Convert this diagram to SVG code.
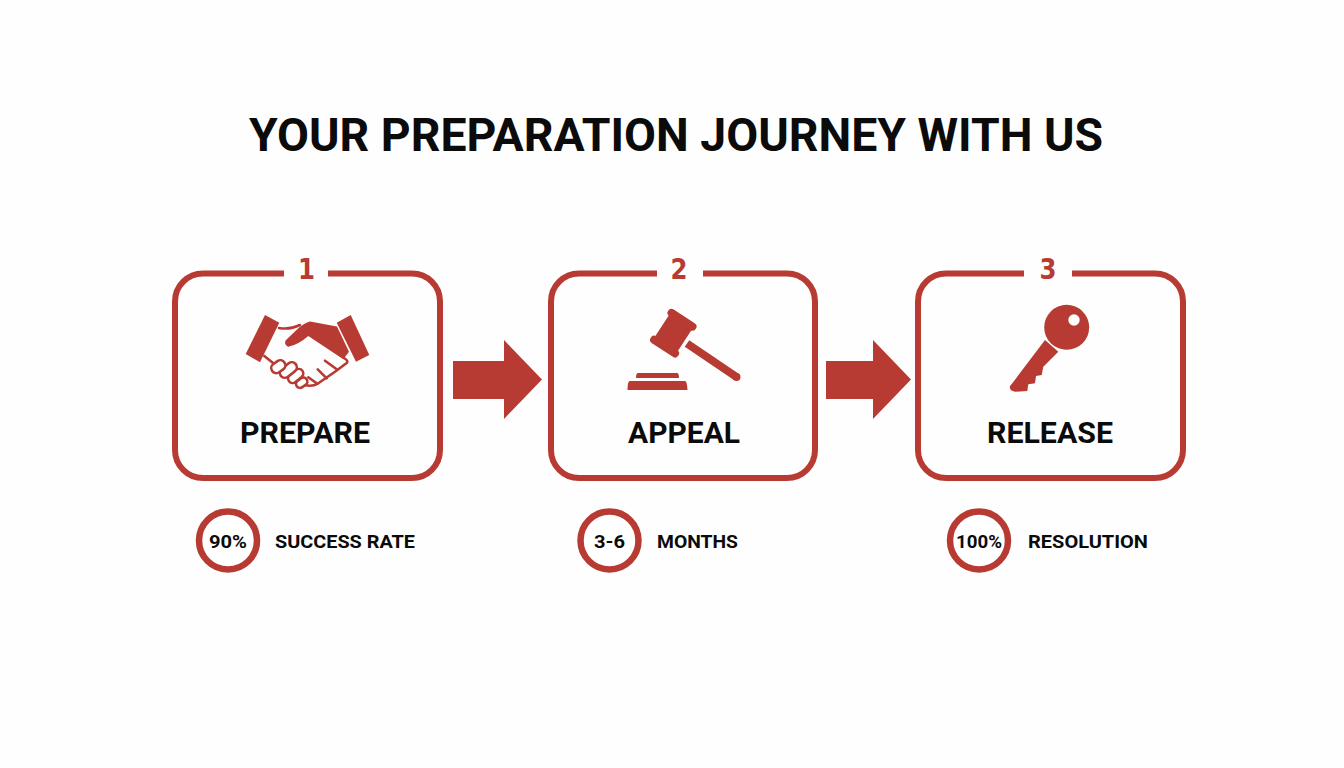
<svg xmlns="http://www.w3.org/2000/svg" width="1344" height="768" viewBox="0 0 1344 768">
<style>
text{font-family:Roboto,"Liberation Sans",sans-serif;font-weight:700;fill:#0b0b0b}
.title{font-size:47px}
.label{font-size:29px}
.num{font-family:"DejaVu Sans",sans-serif;font-size:29px;fill:#b73b33;text-anchor:middle}
.stat{font-size:18px;text-anchor:middle}
.cap{font-size:19px}
.box{fill:none;stroke:#b73b33;stroke-width:6}
.ring{fill:#fff;stroke:#b73b33;stroke-width:6.5}
.fill{fill:#b73b33}
.line{fill:none;stroke:#b73b33;stroke-width:2.6;stroke-linecap:round;stroke-linejoin:round}
.finger{fill:#fff;stroke:#b73b33;stroke-width:2.6}
</style>
<rect width="1344" height="768" fill="#fefefe"/>
<text class="title" x="249" y="151" textLength="854" lengthAdjust="spacingAndGlyphs">YOUR PREPARATION JOURNEY WITH US</text>
<g id="connectors">
<path class="fill" d="M453 361H504V340L542 379.500L504 419V399H453Z"/>
<path class="fill" d="M826 361H873V340L911 379.500L873 419V399H826Z"/>
</g>
<g id="node-prepare">
<path class="box" d="M328 273.500H412A28 28 0 0 1 440 301.500V450A28 28 0 0 1 412 478H203A28 28 0 0 1 175 450V301.500A28 28 0 0 1 203 273.500H284"/>
<text class="num" x="306.500" y="279" textLength="17" lengthAdjust="spacingAndGlyphs">1</text>
<path class="fill" d="M265 315L279.300 322.700L260 362.300L245.700 354Z"/>
<path class="fill" d="M336.700 322.700L350.700 315L369.300 355L356 361.700Z"/>
<path class="fill" d="M337 326.500L310 321.500Q304 323 298.300 328.300L285.500 340.500Q284 345 288.300 346.700Q298 345 308.300 336L343.300 359.300L349 351.700Z"/>
<path class="line" d="M279 328Q290 330 300 325M264.300 356L273.300 363.300M344 358Q349 361 346.700 363L335 371.700L318.300 383.300Q312 387 305 385M325 360.700L336.700 369.300M317.700 369.300L326.700 378.300M308.300 377.300L316.700 383.300"/>
<rect class="finger" x="295.700" y="378.700" width="12" height="8" rx="4" transform="rotate(-35 301.700 382.700)"/>
<rect class="finger" x="287.200" y="371.500" width="17" height="9" rx="4.500" transform="rotate(-40 295.700 376)"/>
<rect class="finger" x="278.800" y="365" width="19" height="10" rx="5" transform="rotate(-38 288.300 370)"/>
<rect class="finger" x="270.800" y="361.700" width="15" height="10" rx="5" transform="rotate(-35 278.300 366.700)"/>
<text class="label" x="240" y="443" textLength="130" lengthAdjust="spacingAndGlyphs">PREPARE</text>
</g>
<g id="node-appeal">
<path class="box" d="M703 273.500H787A28 28 0 0 1 815 301.500V450A28 28 0 0 1 787 478H579A28 28 0 0 1 551 450V301.500A28 28 0 0 1 579 273.500H657"/>
<text class="num" x="679" y="279" textLength="17" lengthAdjust="spacingAndGlyphs">2</text>
<g transform="translate(673.300 333.200) rotate(33)">
<rect class="fill" x="-13.500" y="-16" width="27" height="32"/>
<rect class="fill" x="-16.500" y="-20" width="33" height="8" rx="4"/>
<rect class="fill" x="-16.500" y="12" width="33" height="8" rx="4"/>
</g>
<path d="M687 343.500L736.500 377" fill="none" stroke="#b73b33" stroke-width="8"/>
<circle class="fill" cx="736.500" cy="377" r="4"/>
<path class="fill" d="M638 373H677Q679 373 679 378H636Q636 373 638 373Z"/>
<path class="fill" d="M630 381H685Q687 381 687.500 390H627.500Q627.500 381 630 381Z"/>
<text class="label" x="628" y="443" textLength="112" lengthAdjust="spacingAndGlyphs">APPEAL</text>
</g>
<g id="node-release">
<path class="box" d="M1072 273.500H1155A28 28 0 0 1 1183 301.500V450A28 28 0 0 1 1155 478H946A28 28 0 0 1 918 450V301.500A28 28 0 0 1 946 273.500H1024"/>
<text class="num" x="1048" y="279" textLength="17" lengthAdjust="spacingAndGlyphs">3</text>
<path class="fill" d="M1045 340L1058.300 351.700L1043.300 366.700L1041.700 375L1036 376L1035 383.300L1028.300 384.300L1027.300 391L1015 391.700Q1009 391 1010 386L1012.700 382.700Z"/>
<circle cx="1066.700" cy="327.300" r="22.500" class="fill"/>
<circle cx="1074" cy="320" r="5.700" fill="#fff"/>
<text class="label" x="987" y="443" textLength="126" lengthAdjust="spacingAndGlyphs">RELEASE</text>
</g>
<g id="stat-success">
<circle class="ring" cx="228" cy="540.500" r="29"/>
<text class="stat" x="228" y="548" textLength="38" lengthAdjust="spacingAndGlyphs">90%</text>
<text class="cap" x="275" y="548" textLength="140" lengthAdjust="spacingAndGlyphs">SUCCESS RATE</text>
</g>
<g id="stat-months">
<circle class="ring" cx="609.500" cy="540.500" r="29"/>
<text class="stat" x="609.500" y="548" textLength="31" lengthAdjust="spacingAndGlyphs">3-6</text>
<text class="cap" x="657" y="548" textLength="81" lengthAdjust="spacingAndGlyphs">MONTHS</text>
</g>
<g id="stat-resolution">
<circle class="ring" cx="979" cy="540.500" r="29"/>
<text class="stat" x="979" y="548" textLength="46" lengthAdjust="spacingAndGlyphs">100%</text>
<text class="cap" x="1028" y="548" textLength="120" lengthAdjust="spacingAndGlyphs">RESOLUTION</text>
</g>
</svg>
